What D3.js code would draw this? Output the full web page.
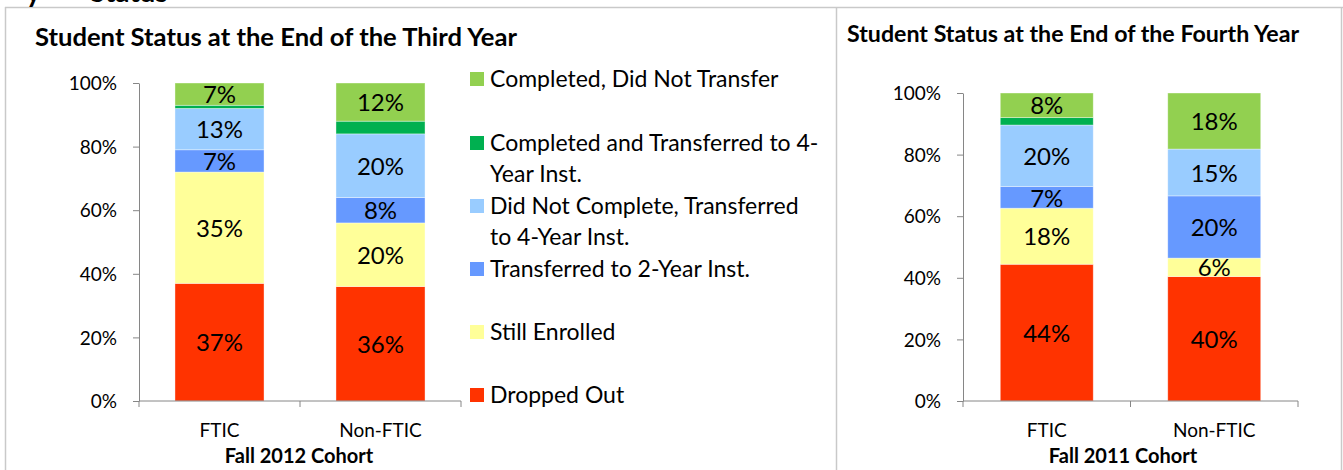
<!DOCTYPE html>
<html lang="en">
<head>
    <meta charset="UTF-8">
    <title>Student Status</title>
    <script src="https://d3js.org/d3.v7.min.js"></script>
    <style>
        body {
            margin: 0;
            padding: 0;
            background: #fff;
            font-family: Lato, "Open Sans", sans-serif;
        }
        .axis path, .axis line {
            stroke: #868686;
            stroke-width: 1px;
        }
        .axis text {
            font-family: Lato, sans-serif;
            font-size: 19px;
            fill: #000;
        }
        .seg-label {
            font-size: 24px;
            fill: #000;
        }
        .legend text {
            font-size: 23px;
            fill: #000;
        }
    </style>
</head>
<body>
    <div id="chart"></div>

    <script>
        // series, bottom to top of the stack
        const seriesNames = [
            "Dropped Out",
            "Still Enrolled",
            "Transferred to 2-Year Inst.",
            "Did Not Complete, Transferred to 4-Year Inst.",
            "Completed and Transferred to 4-Year Inst.",
            "Completed, Did Not Transfer"
        ];
        const seriesColors = ["#ff3300", "#ffff99", "#6699ff", "#99ccff", "#00b050", "#92d050"];
        const categories = ["FTIC", "Non-FTIC"];
        const yTicks = [0, 0.2, 0.4, 0.6, 0.8, 1];

        // Fall 2012 cohort, end of third year
        const thirdFTIC = [0.37, 0.35, 0.07, 0.13, 0.01, 0.07];
        const thirdNonFTIC = [0.36, 0.20, 0.08, 0.20, 0.04, 0.12];
        // Fall 2011 cohort, end of fourth year
        const fourthFTIC = [0.444, 0.182, 0.07, 0.20, 0.024, 0.08];
        const fourthNonFTIC = [0.404, 0.06, 0.202, 0.152, 0, 0.182];

        // legend is listed top to bottom, with wrapped lines
        const legendLines = [
            ["Completed, Did Not Transfer"],
            ["Completed and Transferred to 4-", "Year Inst."],
            ["Did Not Complete, Transferred", "to 4-Year Inst."],
            ["Transferred to 2-Year Inst."],
            ["Still Enrolled"],
            ["Dropped Out"]
        ];

        const width = 1343, height = 470;
        const pct = d3.format(".0%");

        const svg = d3.select("#chart").append("svg")
            .attr("width", width)
            .attr("height", height);

        // panel frames
        const frame = svg.append("g")
            .attr("fill", "none")
            .attr("stroke", "#c9c9c9")
            .attr("stroke-width", 1.5);
        frame.append("line").attr("x1", 5).attr("x2", 1343).attr("y1", 7.5).attr("y2", 7.5);
        frame.append("line").attr("x1", 5.5).attr("x2", 5.5).attr("y1", 7).attr("y2", 470);
        frame.append("line").attr("x1", 836.5).attr("x2", 836.5).attr("y1", 7).attr("y2", 470);
        frame.append("line").attr("x1", 1341.5).attr("x2", 1341.5).attr("y1", 7).attr("y2", 470);

        // heading cut off at the top of the picture
        svg.append("text").attr("x", 26).attr("y", 2)
            .attr("font-size", 28).attr("font-weight", "bold").text("y");
        svg.append("text").attr("x", 90).attr("y", 2)
            .attr("font-size", 28).attr("font-weight", "bold").text("Status");

        function drawChart(opts) {
            const g = svg.append("g");

            const x = d3.scaleBand()
                .domain(categories)
                .range(opts.xRange)
                .paddingInner(opts.gap)
                .paddingOuter(opts.gap / 2);
            const y = d3.scaleLinear().domain([0, 1]).range(opts.yRange);

            const rows = categories.map((c, i) => {
                const row = { cat: c };
                seriesNames.forEach((s, j) => row[s] = opts.values[i][j]);
                return row;
            });
            const stacked = d3.stack().keys(seriesNames)(rows);

            const layer = g.selectAll(".layer")
                .data(stacked)
                .enter().append("g")
                .attr("fill", (d, i) => seriesColors[i]);

            layer.selectAll("rect")
                .data(d => d)
                .enter().append("rect")
                .attr("x", d => x(d.data.cat))
                .attr("width", x.bandwidth())
                .attr("y", d => y(d[1]))
                .attr("height", d => y(d[0]) - y(d[1]))
                .attr("stroke", "#fff")
                .attr("stroke-opacity", 0.5)
                .attr("stroke-width", 0.75);

            // value labels (the thin dark green series is not labelled)
            layer.filter((d, i) => i !== 4)
                .selectAll("text")
                .data(d => d.filter(p => p[1] - p[0] > 0.001))
                .enter().append("text")
                .attr("class", "seg-label")
                .attr("x", d => x(d.data.cat) + x.bandwidth() / 2)
                .attr("y", d => (y(d[0]) + y(d[1])) / 2)
                .attr("dy", "0.38em")
                .attr("text-anchor", "middle")
                .text(d => pct(d[1] - d[0]));

            // y axis
            const yAxis = g.append("g")
                .attr("class", "axis")
                .attr("transform", `translate(${opts.xRange[0]},0)`)
                .call(d3.axisLeft(y).tickValues(yTicks).tickFormat(d3.format(".0%"))
                    .tickSize(6).tickSizeOuter(0).tickPadding(16));
            yAxis.selectAll("text").attr("dy", "0.35em");

            // x axis with ticks at category boundaries
            const xAxisG = g.append("g")
                .attr("class", "axis")
                .attr("transform", `translate(0,${opts.yRange[0]})`);
            xAxisG.append("line")
                .attr("x1", opts.xRange[0]).attr("x2", opts.xRange[1]);
            const bounds = [opts.xRange[0]].concat(categories.map(c => x(c) + x.bandwidth() / 2 + x.step() / 2));
            xAxisG.selectAll(".tick-b")
                .data(bounds)
                .enter().append("line")
                .attr("x1", d => d).attr("x2", d => d)
                .attr("y1", 0).attr("y2", 6);
            xAxisG.selectAll(".cat")
                .data(categories)
                .enter().append("text")
                .attr("x", d => x(d) + x.bandwidth() / 2)
                .attr("y", 36)
                .attr("text-anchor", "middle")
                .text(d => d);

            g.append("text")
                .attr("x", opts.cohortX)
                .attr("y", 463)
                .attr("text-anchor", "middle")
                .attr("font-size", 20)
                .attr("font-weight", "bold")
                .text(opts.cohort);

            g.append("text")
                .attr("x", opts.titleX)
                .attr("y", opts.titleY)
                .attr("font-size", opts.titleSize)
                .attr("font-weight", "bold")
                .text(opts.title);
        }

        drawChart({
            values: [thirdFTIC, thirdNonFTIC],
            xRange: [139, 461],
            yRange: [401, 83],
            gap: 0.447,
            title: "Student Status at the End of the Third Year",
            titleX: 35, titleY: 46, titleSize: 25.6,
            cohort: "Fall 2012 Cohort",
            cohortX: 299
        });

        drawChart({
            values: [fourthFTIC, fourthNonFTIC],
            xRange: [963, 1298],
            yRange: [401, 93],
            gap: 0.445,
            title: "Student Status at the End of the Fourth Year",
            titleX: 847, titleY: 42, titleSize: 23.2,
            cohort: "Fall 2011 Cohort",
            cohortX: 1123
        });

        // legend for the left chart
        const legendY = [79, 143, 206, 269, 332, 395];
        const legend = svg.append("g").attr("class", "legend");
        const item = legend.selectAll(".item")
            .data(legendLines)
            .enter().append("g")
            .attr("transform", (d, i) => `translate(470,${legendY[i]})`);
        item.append("rect")
            .attr("x", 0).attr("y", -7)
            .attr("width", 14).attr("height", 14)
            .attr("fill", (d, i) => seriesColors[seriesColors.length - 1 - i]);
        item.selectAll("text")
            .data(d => d)
            .enter().append("text")
            .attr("x", 20)
            .attr("y", (d, k) => k * 31)
            .attr("dy", "0.36em")
            .text(d => d);
    </script>
</body>
</html>
